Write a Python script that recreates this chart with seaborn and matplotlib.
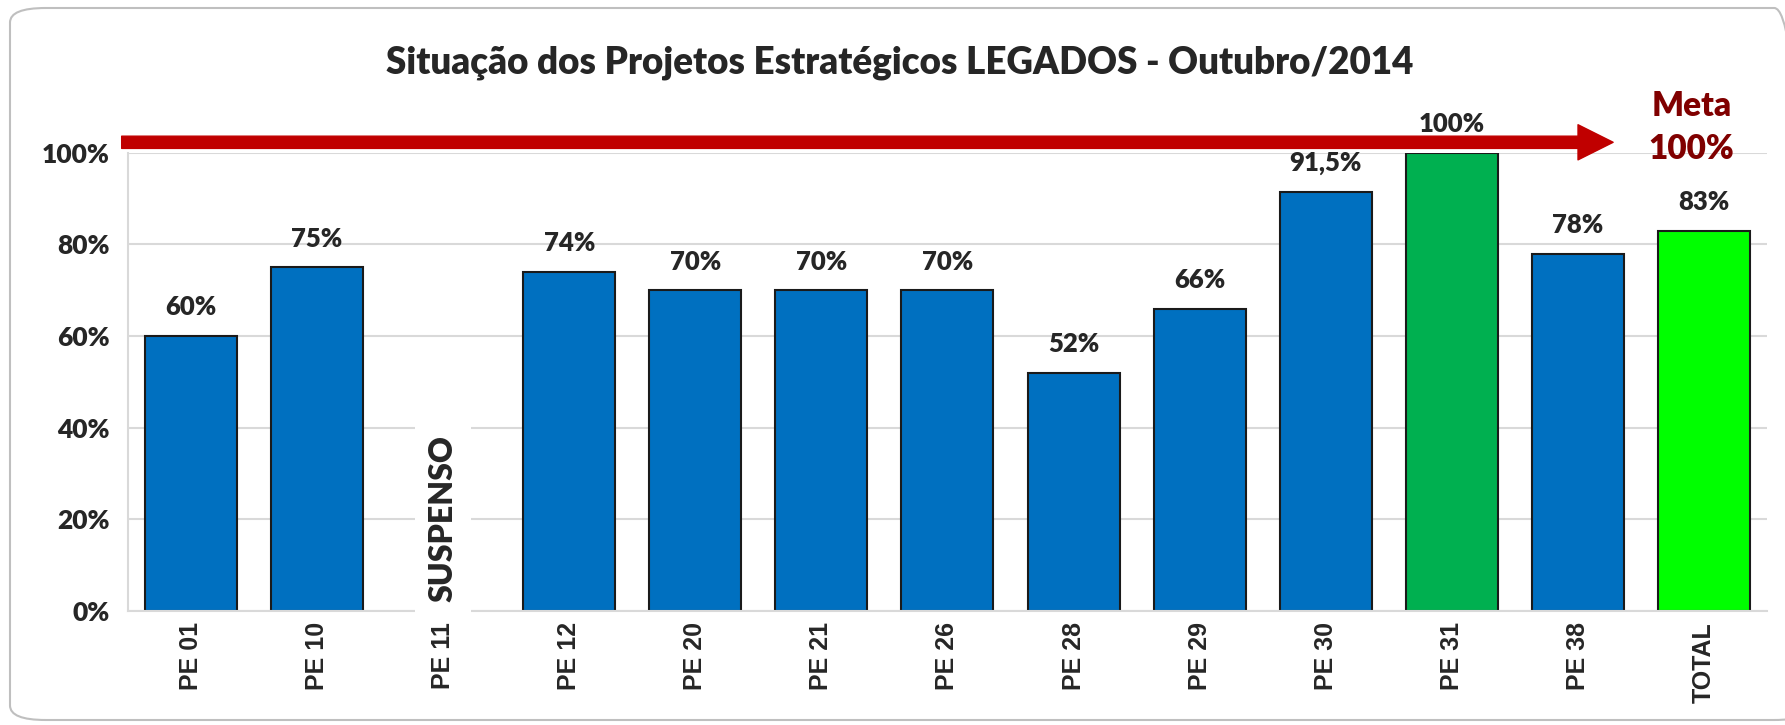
import matplotlib.pyplot as plt
import seaborn as sns
import pandas as pd
import numpy as np
from matplotlib.patches import FancyBboxPatch

# dados do gráfico
projetos = ["PE 01", "PE 10", "PE 11", "PE 12", "PE 20", "PE 21", "PE 26",
            "PE 28", "PE 29", "PE 30", "PE 31", "PE 38", "TOTAL"]
situacao = [0.60, 0.75, np.nan, 0.74, 0.70, 0.70, 0.70,
            0.52, 0.66, 0.915, 1.00, 0.78, 0.83]
rotulos = ["60%", "75%", "", "74%", "70%", "70%", "70%",
           "52%", "66%", "91,5%", "100%", "78%", "83%"]
cores = ["#0070C0"] * 10 + ["#00B050", "#0070C0", "#00FF00"]
meta = 1.0
suspenso = "PE 11"

sns.set_theme(style="white")
plt.rcParams['font.family'] = ['Lato', 'DejaVu Sans']

df = pd.DataFrame({"Projeto": projetos, "Situacao": situacao})

fig = plt.figure(figsize=(17.85, 7.25), dpi=100)
ax = fig.add_axes([0.0717, 0.1572, 0.9182, 0.632])

# moldura arredondada do gráfico
fig.patches.append(FancyBboxPatch((10 / 1785, 5 / 725), 1800 / 1785, 712 / 725,
                                  boxstyle="round,pad=0,rounding_size=0.02",
                                  transform=fig.transFigure, facecolor="none",
                                  edgecolor="#BFBFBF", linewidth=1.5, zorder=-1))

sns.barplot(data=df, x="Projeto", y="Situacao", hue="Projeto", order=projetos,
            hue_order=projetos, palette=cores, legend=False, width=0.73,
            edgecolor="#1A1A1A", linewidth=1.5, saturation=1, ax=ax)

ax.set_ylim(0, 1.0)
ax.set_xlim(-0.5, len(projetos) - 0.5)
ax.set_yticks(np.arange(0, 1.01, 0.2))
ax.set_yticklabels([f"{int(round(v * 100))}%" for v in np.arange(0, 1.01, 0.2)],
                   fontsize=19, fontweight="heavy")
ax.set_xticks(range(len(projetos)))
ax.set_xticklabels(projetos, rotation=90, fontsize=18, fontweight="bold",
                   family="Liberation Sans")
ax.set_xlabel("")
ax.set_ylabel("")

ax.grid(axis="y", color="#D9D9D9", linewidth=1.5, zorder=0)
ax.set_axisbelow(True)
for s in ["top", "right"]:
    ax.spines[s].set_visible(False)
ax.spines["left"].set_color("#D9D9D9")
ax.spines["bottom"].set_color("#D9D9D9")
ax.spines["left"].set_linewidth(1.5)
ax.spines["bottom"].set_linewidth(1.5)
ax.tick_params(axis="y", length=7, color="#D9D9D9", width=1.5, pad=6)
ax.tick_params(axis="x", which="major", length=0, pad=8)
ax.set_xticks(np.arange(-0.5, len(projetos), 1), minor=True)
ax.tick_params(axis="x", which="minor", length=7, color="#D9D9D9", width=1.5)

# rótulos de dados
for i, (v, r) in enumerate(zip(situacao, rotulos)):
    if r:
        ax.annotate(r, (i, v), xytext=(0, 12), textcoords="offset points",
                    ha="center", va="bottom", fontsize=18.5, fontweight="heavy",
                    zorder=4)

# projeto suspenso
ax.text(projetos.index(suspenso), 0.02, "SUSPENSO", rotation=90, ha="center",
        va="bottom", fontsize=23, fontweight="heavy",
        bbox=dict(facecolor="white", edgecolor="none", pad=10), zorder=3)

# seta da meta
ax.annotate("", xy=(11.28, meta + 0.023), xytext=(-0.55, meta + 0.023),
            xycoords="data", annotation_clip=False,
            arrowprops=dict(arrowstyle="simple,head_length=1.15,head_width=1.15,tail_width=0.4",
                            color="#C00000", mutation_scale=22, shrinkA=0, shrinkB=0))
ax.text(11.9, 1.102, "Meta", ha="center", va="center", fontsize=24,
        fontweight="heavy", color="#800000", clip_on=False)
ax.text(11.9, 1.009, f"{int(meta * 100)}%", ha="center", va="center",
        fontsize=24, fontweight="heavy", color="#800000", clip_on=False)

fig.text(0.504, 0.913, "Situação dos Projetos Estratégicos LEGADOS - Outubro/2014",
         ha="center", va="center", fontsize=26.5, fontweight="heavy")

fig.savefig("out.png", dpi=100)
